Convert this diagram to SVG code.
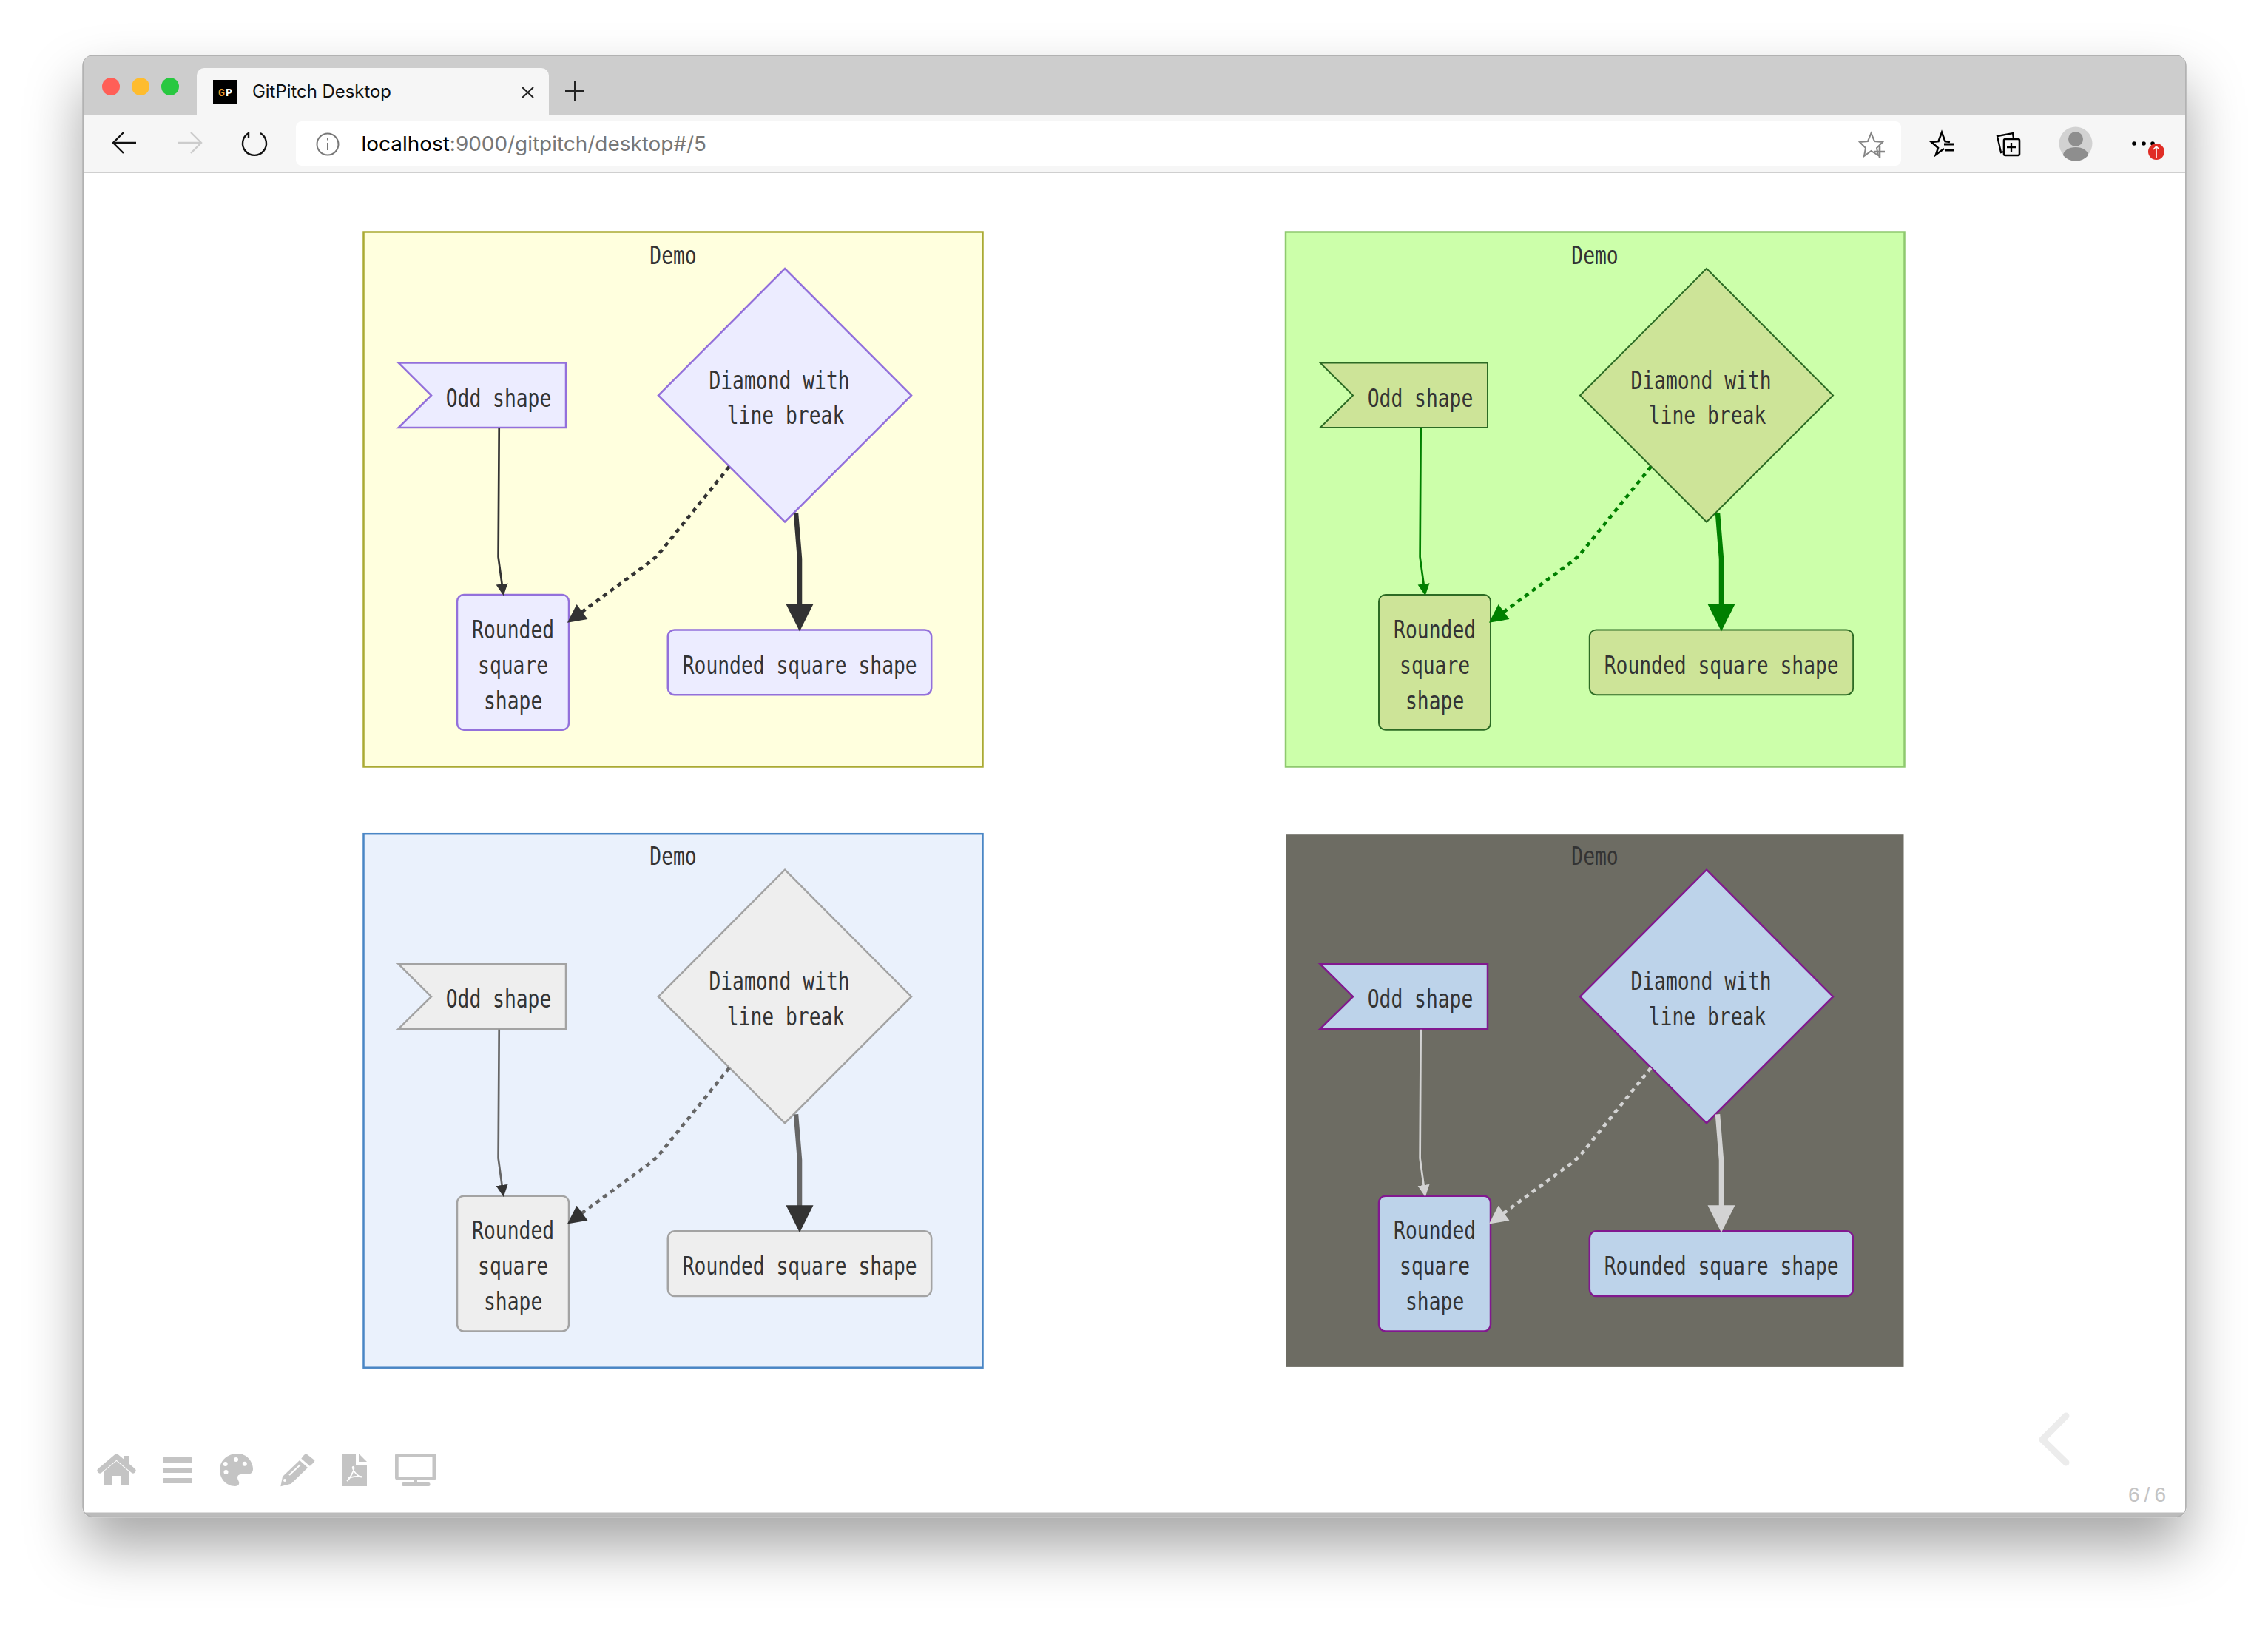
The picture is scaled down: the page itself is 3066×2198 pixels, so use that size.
<svg xmlns="http://www.w3.org/2000/svg" width="3066" height="2198" viewBox="0 0 3066 2198">
<defs>
<style>
.t{font-family:"DejaVu Sans Mono","Liberation Mono",monospace;font-size:33px;fill:#333;text-anchor:middle}
.ui{font-family:Inter,"Liberation Sans",sans-serif}
.ic{fill:#c4c4c4}
.cl{fill:none}
.thin{stroke-width:2.7}
.dot{stroke-width:4.5;stroke-dasharray:6 6}
.thick{stroke-width:6.5}
.p1 .bg{fill:#ffffde;stroke:#aaaa33}.p1 .n{fill:#ececff;stroke:#9370db}.p1 .cl{stroke:#333}
.p2 .bg{fill:#ccffaa;stroke:#8fc96f}.p2 .n{fill:#cde498;stroke:#2c6b24;stroke-width:2}.p2 .cl{stroke:#008000}
.p3 .bg{fill:#eaf1fc;stroke:#4a86c5}.p3 .n{fill:#eee;stroke:#a3a3a3}.p3 .cl{stroke:#666}
.p4 .bg{fill:#6d6c63;stroke:none}.p4 .n{fill:#bdd3ea;stroke:#81188f}.p4 .cl{stroke:#d3d3d3}
.bg{stroke-width:2.5}.n{stroke-width:2.5}
</style>
<filter id="sh" x="-10%" y="-10%" width="120%" height="125%"><feDropShadow dx="0" dy="40" stdDeviation="38" flood-color="#000" flood-opacity="0.35"/></filter>
<clipPath id="win"><rect x="112" y="75" width="2843" height="1975" rx="14"/></clipPath>
<marker id="a1d" markerUnits="userSpaceOnUse" markerWidth="16" markerHeight="17" viewBox="0 0 10 10" refX="2" refY="5" orient="auto"><path d="M0 0L10 5L0 10z" fill="#333"/></marker>
<marker id="a2d" markerUnits="userSpaceOnUse" markerWidth="26" markerHeight="25" viewBox="0 0 10 10" refX="2" refY="5" orient="auto"><path d="M0 0L10 5L0 10z" fill="#333"/></marker>
<marker id="a3d" markerUnits="userSpaceOnUse" markerWidth="37" markerHeight="40" viewBox="0 0 10 10" refX="2" refY="5" orient="auto"><path d="M0 0L10 5L0 10z" fill="#333"/></marker>
<marker id="a1g" markerUnits="userSpaceOnUse" markerWidth="16" markerHeight="17" viewBox="0 0 10 10" refX="2" refY="5" orient="auto"><path d="M0 0L10 5L0 10z" fill="#008000"/></marker>
<marker id="a2g" markerUnits="userSpaceOnUse" markerWidth="26" markerHeight="25" viewBox="0 0 10 10" refX="2" refY="5" orient="auto"><path d="M0 0L10 5L0 10z" fill="#008000"/></marker>
<marker id="a3g" markerUnits="userSpaceOnUse" markerWidth="37" markerHeight="40" viewBox="0 0 10 10" refX="2" refY="5" orient="auto"><path d="M0 0L10 5L0 10z" fill="#008000"/></marker>
<marker id="a1l" markerUnits="userSpaceOnUse" markerWidth="16" markerHeight="17" viewBox="0 0 10 10" refX="2" refY="5" orient="auto"><path d="M0 0L10 5L0 10z" fill="#d3d3d3"/></marker>
<marker id="a2l" markerUnits="userSpaceOnUse" markerWidth="26" markerHeight="25" viewBox="0 0 10 10" refX="2" refY="5" orient="auto"><path d="M0 0L10 5L0 10z" fill="#d3d3d3"/></marker>
<marker id="a3l" markerUnits="userSpaceOnUse" markerWidth="37" markerHeight="40" viewBox="0 0 10 10" refX="2" refY="5" orient="auto"><path d="M0 0L10 5L0 10z" fill="#d3d3d3"/></marker>
</defs>
<rect width="3066" height="2198" fill="#fff"/>
<g id="window">
<rect x="112" y="75" width="2843" height="1975.500" rx="14" fill="#bbb" stroke="#b0b0b0" stroke-width="1.500" filter="url(#sh)"/>
<g clip-path="url(#win)">
<rect x="113" y="76" width="2841" height="80" fill="#cdcdcd"/>
<rect x="113" y="156" width="2841" height="77" fill="#f6f6f6"/>
<rect x="113" y="232" width="2841" height="2" fill="#cfcfcf"/>
<rect x="113" y="234" width="2841" height="1810.500" fill="#fff"/>
</g>
<circle cx="150" cy="117" r="12" fill="#ff5f57"/><circle cx="190" cy="117" r="12" fill="#febc2e"/><circle cx="230" cy="117" r="12" fill="#28c840"/>
<path d="M266 156V102a10 10 0 0 1 10-10H732a10 10 0 0 1 10 10V156z" fill="#f6f6f6"/>
<rect x="288" y="108" width="32" height="32" fill="#000"/>
<text x="295" y="130" font-family="Liberation Mono,monospace" font-weight="700" font-size="15" fill="#e79b2a" textLength="9">G</text>
<text x="305" y="130" font-family="Liberation Mono,monospace" font-weight="700" font-size="15" fill="#fff" textLength="9">P</text>
<text class="ui" x="341" y="132" font-size="24" fill="#111" textLength="188" lengthAdjust="spacingAndGlyphs">GitPitch Desktop</text>
<path d="M706 118L721 132M721 118L706 132M777 110V136M764 123H790" stroke="#222" stroke-width="2" fill="none"/>
<rect x="400" y="164" width="2170" height="60" rx="8" fill="#fff"/>
<path d="M184 193H154M167 179L153 193L167 207" stroke="#111" stroke-width="2.4" fill="none"/>
<path d="M240 193H271M258 179L272 193L258 207" stroke="#ccc" stroke-width="2.4" fill="none"/>
<path d="M336 180A16 16 0 1 0 352 180M336 178V187" stroke="#111" stroke-width="2.4" fill="none"/>
<circle cx="443" cy="195" r="14.5" fill="none" stroke="#777" stroke-width="2"/><path d="M443 193V203M443 187V189.500" stroke="#777" stroke-width="2"/>
<text class="ui" x="488.600" y="204" font-size="27" fill="#777" textLength="466.500" lengthAdjust="spacingAndGlyphs"><tspan fill="#000">localhost</tspan>:9000/gitpitch/desktop#/5</text>
<path d="M2529.500 180L2534 191L2545 192L2537 200L2539 210L2529.500 204L2520 211L2522 200L2514 192L2525 191z" fill="none" stroke="#858585" stroke-width="2"/>
<path d="M2541 198V213M2534 205H2548" stroke="#858585" stroke-width="2.600"/>
<path d="M2636 192L2629.500 191L2625 179L2620.500 191L2611 192L2620 200L2617 209L2628 201" fill="none" stroke="#000" stroke-width="2.600"/>
<path d="M2628 195H2642M2629 203H2642" stroke="#000" stroke-width="2.800"/>
<rect x="2709" y="188" width="21" height="22" rx="2" fill="none" stroke="#000" stroke-width="2.600"/>
<path d="M2709 205L2705 206L2700 184L2721 180L2722 187M2719 193V205M2713 199H2725" fill="none" stroke="#000" stroke-width="2.300"/>
<circle cx="2806" cy="194" r="22.500" fill="#d2d2d2"/><ellipse cx="2806" cy="188" rx="10" ry="10" fill="#8e8e8e"/><path d="M2789 210A17 11 0 0 1 2823 210A22.500 22.500 0 0 1 2789 210z" fill="#8e8e8e"/>
<circle cx="2885" cy="194" r="2.800" fill="#000"/><circle cx="2898" cy="194" r="2.800" fill="#000"/><circle cx="2910" cy="194" r="2.800" fill="#000"/>
<circle cx="2915" cy="205" r="11" fill="#e02d25"/><path d="M2915 213V198M2911 202L2915 198L2919 202" stroke="#fff" stroke-width="1.600" fill="none"/>
</g>

<g class="p1">
<rect class="bg" id="panel1" x="491.500" y="313.500" width="837" height="723"/>
<text class="t" x="910" y="356.500" textLength="63.400" lengthAdjust="spacingAndGlyphs">Demo</text>
<g id="p1-odd"><polygon class="n" points="538.700,490.500 765,490.500 765,578 538.700,578 583,534.500"/><text class="t" x="674" y="549.500" textLength="142.600" lengthAdjust="spacingAndGlyphs">Odd shape</text></g>
<g id="p1-diamond"><polygon class="n" points="1061,363 1232,534.500 1061,705.500 890,534.500"/><text class="t" x="1053.500" y="525.500" textLength="190.200" lengthAdjust="spacingAndGlyphs">Diamond with</text><text class="t" x="1062" y="573" textLength="158.500" lengthAdjust="spacingAndGlyphs">line break</text></g>
<g id="p1-round-v"><rect class="n" x="618" y="804" width="151" height="182.700" rx="9"/><text class="t" x="693.600" y="862.500" textLength="111" lengthAdjust="spacingAndGlyphs">Rounded</text><text class="t" x="693.600" y="910.500" textLength="95" lengthAdjust="spacingAndGlyphs">square</text><text class="t" x="693.600" y="958.500" textLength="79.300" lengthAdjust="spacingAndGlyphs">shape</text></g>
<g id="p1-round-h"><rect class="n" x="902.800" y="851.500" width="356.400" height="87.700" rx="9"/><text class="t" x="1081.200" y="910.500" textLength="317" lengthAdjust="spacingAndGlyphs">Rounded square shape</text></g>
<g id="p1-connectors">
<path class="cl thin" d="M674.700 579L673.600 753L679 792.500" marker-end="url(#a1d)"/>
<path class="cl dot" d="M985.700 631L892 747Q887 753 878 760L783 830" marker-end="url(#a2d)"/>
<path class="cl thick" d="M1076 693.500L1081 755.500V824" marker-end="url(#a3d)"/>
</g>
</g>

<g class="p2" transform="translate(1246,0)">
<rect class="bg" id="panel2" x="492" y="313.500" width="836.500" height="723"/>
<text class="t" x="910" y="356.500" textLength="63.400" lengthAdjust="spacingAndGlyphs">Demo</text>
<g id="p2-odd"><polygon class="n" points="538.700,490.500 765,490.500 765,578 538.700,578 583,534.500"/><text class="t" x="674" y="549.500" textLength="142.600" lengthAdjust="spacingAndGlyphs">Odd shape</text></g>
<g id="p2-diamond"><polygon class="n" points="1061,363 1232,534.500 1061,705.500 890,534.500"/><text class="t" x="1053.500" y="525.500" textLength="190.200" lengthAdjust="spacingAndGlyphs">Diamond with</text><text class="t" x="1062" y="573" textLength="158.500" lengthAdjust="spacingAndGlyphs">line break</text></g>
<g id="p2-round-v"><rect class="n" x="618" y="804" width="151" height="182.700" rx="9"/><text class="t" x="693.600" y="862.500" textLength="111" lengthAdjust="spacingAndGlyphs">Rounded</text><text class="t" x="693.600" y="910.500" textLength="95" lengthAdjust="spacingAndGlyphs">square</text><text class="t" x="693.600" y="958.500" textLength="79.300" lengthAdjust="spacingAndGlyphs">shape</text></g>
<g id="p2-round-h"><rect class="n" x="902.800" y="851.500" width="356.400" height="87.700" rx="9"/><text class="t" x="1081.200" y="910.500" textLength="317" lengthAdjust="spacingAndGlyphs">Rounded square shape</text></g>
<g id="p2-connectors">
<path class="cl thin" d="M674.700 579L673.600 753L679 792.500" marker-end="url(#a1g)"/>
<path class="cl dot" d="M985.700 631L892 747Q887 753 878 760L783 830" marker-end="url(#a2g)"/>
<path class="cl thick" d="M1076 693.500L1081 755.500V824" marker-end="url(#a3g)"/>
</g>
</g>

<g class="p3" transform="translate(0,812.700)">
<rect class="bg" id="panel3" x="491.500" y="314.500" width="837" height="721.500"/>
<text class="t" x="910" y="356.500" textLength="63.400" lengthAdjust="spacingAndGlyphs">Demo</text>
<g id="p3-odd"><polygon class="n" points="538.700,490.500 765,490.500 765,578 538.700,578 583,534.500"/><text class="t" x="674" y="549.500" textLength="142.600" lengthAdjust="spacingAndGlyphs">Odd shape</text></g>
<g id="p3-diamond"><polygon class="n" points="1061,363 1232,534.500 1061,705.500 890,534.500"/><text class="t" x="1053.500" y="525.500" textLength="190.200" lengthAdjust="spacingAndGlyphs">Diamond with</text><text class="t" x="1062" y="573" textLength="158.500" lengthAdjust="spacingAndGlyphs">line break</text></g>
<g id="p3-round-v"><rect class="n" x="618" y="804" width="151" height="182.700" rx="9"/><text class="t" x="693.600" y="862.500" textLength="111" lengthAdjust="spacingAndGlyphs">Rounded</text><text class="t" x="693.600" y="910.500" textLength="95" lengthAdjust="spacingAndGlyphs">square</text><text class="t" x="693.600" y="958.500" textLength="79.300" lengthAdjust="spacingAndGlyphs">shape</text></g>
<g id="p3-round-h"><rect class="n" x="902.800" y="851.500" width="356.400" height="87.700" rx="9"/><text class="t" x="1081.200" y="910.500" textLength="317" lengthAdjust="spacingAndGlyphs">Rounded square shape</text></g>
<g id="p3-connectors">
<path class="cl thin" d="M674.700 579L673.600 753L679 792.500" marker-end="url(#a1d)"/>
<path class="cl dot" d="M985.700 631L892 747Q887 753 878 760L783 830" marker-end="url(#a2d)"/>
<path class="cl thick" d="M1076 693.500L1081 755.500V824" marker-end="url(#a3d)"/>
</g>
</g>

<g class="p4" transform="translate(1246,812.700)">
<rect class="bg" id="panel4" x="492" y="315.500" width="835.500" height="719.700"/>
<text class="t" x="910" y="356.500" textLength="63.400" lengthAdjust="spacingAndGlyphs">Demo</text>
<g id="p4-odd"><polygon class="n" points="538.700,490.500 765,490.500 765,578 538.700,578 583,534.500"/><text class="t" x="674" y="549.500" textLength="142.600" lengthAdjust="spacingAndGlyphs">Odd shape</text></g>
<g id="p4-diamond"><polygon class="n" points="1061,363 1232,534.500 1061,705.500 890,534.500"/><text class="t" x="1053.500" y="525.500" textLength="190.200" lengthAdjust="spacingAndGlyphs">Diamond with</text><text class="t" x="1062" y="573" textLength="158.500" lengthAdjust="spacingAndGlyphs">line break</text></g>
<g id="p4-round-v"><rect class="n" x="618" y="804" width="151" height="182.700" rx="9"/><text class="t" x="693.600" y="862.500" textLength="111" lengthAdjust="spacingAndGlyphs">Rounded</text><text class="t" x="693.600" y="910.500" textLength="95" lengthAdjust="spacingAndGlyphs">square</text><text class="t" x="693.600" y="958.500" textLength="79.300" lengthAdjust="spacingAndGlyphs">shape</text></g>
<g id="p4-round-h"><rect class="n" x="902.800" y="851.500" width="356.400" height="87.700" rx="9"/><text class="t" x="1081.200" y="910.500" textLength="317" lengthAdjust="spacingAndGlyphs">Rounded square shape</text></g>
<g id="p4-connectors">
<path class="cl thin" d="M674.700 579L673.600 753L679 792.500" marker-end="url(#a1l)"/>
<path class="cl dot" d="M985.700 631L892 747Q887 753 878 760L783 830" marker-end="url(#a2l)"/>
<path class="cl thick" d="M1076 693.500L1081 755.500V824" marker-end="url(#a3l)"/>
</g>
</g>

<g id="toolbar">
<path d="M135 1988L157.500 1969L180 1988" fill="none" stroke="#c4c4c4" stroke-width="7" stroke-linecap="round" stroke-linejoin="round"/>
<rect class="ic" x="168" y="1968" width="7" height="14"/>
<path class="ic" d="M157.500 1975L174 1989V2007H163V1995H152V2007H140.500V1989z"/>
<rect class="ic" x="220" y="1970" width="40" height="7" rx="1.500"/><rect class="ic" x="220" y="1984" width="40" height="7" rx="1.500"/><rect class="ic" x="220" y="1998" width="40" height="7" rx="1.500"/>
<path class="ic" d="M321 1965C334 1965 342 1976 342 1986C342 1991 338 1993 334 1993L326 1993C321 1993 320 1997 322 2001C325 2006 322 2009 318 2009C305 2009 297 1998 297 1987C297 1975 307 1965 321 1965Z"/>
<circle cx="304.700" cy="1979" r="3" fill="#fff"/><circle cx="319" cy="1973" r="3" fill="#fff"/><circle cx="330.800" cy="1978.700" r="3" fill="#fff"/><circle cx="305.500" cy="1990" r="3" fill="#fff"/>
<path class="ic" d="M413.800 1965L425.300 1974Q426 1976 418.800 1981.700L407.300 1971.700Q411 1966 413.800 1965z"/>
<path class="ic" d="M405 1974L416 1984L393.500 2005.700L379.400 2009.300L382 1996z"/>
<path d="M406 1980L391 1994" stroke="#fff" stroke-width="2"/><circle cx="385" cy="2001" r="2" fill="#fff"/>
<path class="ic" d="M462 1965H481V1980H496V2009H462z"/><path class="ic" d="M485 1965L496 1976H485z"/>
<path d="M469 2002C474 1998 480 1985 478 1983C475 1981 477 1990 486 1996C492 1998 490 1993 471 1998" fill="none" stroke="#fff" stroke-width="1.800"/>
<path class="ic" fill-rule="evenodd" d="M536 1965H588Q590 1965 590 1967V1998Q590 2000 588 2000H536Q534 2000 534 1998V1967Q534 1965 536 1965zM538.700 1970V1996H584.500V1970z"/>
<rect class="ic" x="559" y="2000" width="5" height="5"/><rect class="ic" x="543" y="2004" width="38.500" height="5" rx="2"/>
</g>
<path id="prev" d="M2793 1914L2761 1946L2793 1977" fill="none" stroke="#ececec" stroke-width="9" stroke-linecap="round" stroke-linejoin="round"/>
<text x="2877" y="2030" font-family="Liberation Sans,Arial,sans-serif" font-size="28" fill="#c4c4c4" textLength="51">6 / 6</text>
</svg>
